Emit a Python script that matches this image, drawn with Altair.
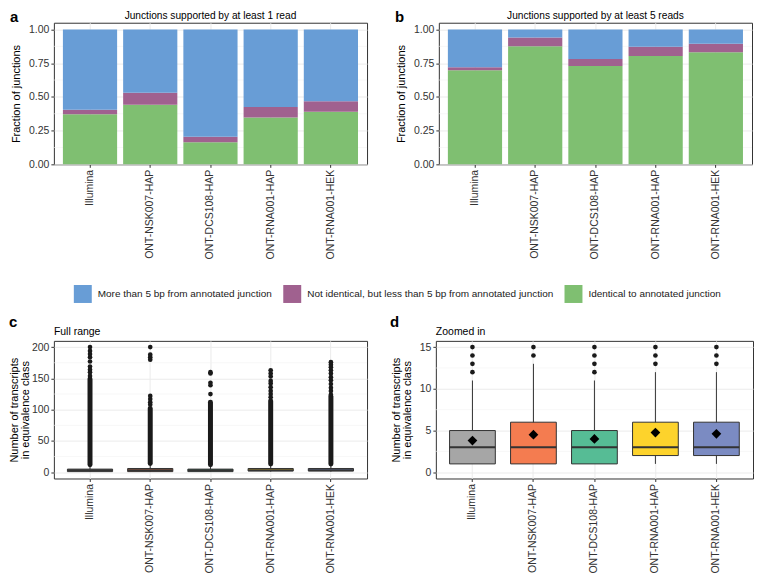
import altair as alt
import pandas as pd

FONT = "Liberation Sans"

# ---------------- data ----------------
samples = ["Illumina", "ONT-NSK007-HAP", "ONT-DCS108-HAP", "ONT-RNA001-HAP", "ONT-RNA001-HEK"]
categories = [
    "More than 5 bp from annotated junction",
    "Not identical, but less than 5 bp from annotated junction",
    "Identical to annotated junction",
]
cat_colors = ["#689DD6", "#A0618F", "#7FBF71"]

# panel a: junctions supported by at least 1 read (fractions)
a_identical = [0.371, 0.442, 0.164, 0.347, 0.390]
a_near = [0.033, 0.088, 0.040, 0.078, 0.078]
a_far = [0.596, 0.470, 0.796, 0.575, 0.532]
# panel b: junctions supported by at least 5 reads
b_identical = [0.698, 0.876, 0.729, 0.803, 0.831]
b_near = [0.022, 0.065, 0.052, 0.069, 0.064]
b_far = [0.280, 0.059, 0.219, 0.128, 0.105]

frac_ticks = [0, 0.25, 0.5, 0.75, 1.0]
frac_minor = [0.125, 0.375, 0.625, 0.875]

# panels c/d: boxplot statistics (transcripts per equivalence class)
box_colors = ["#A6A6A6", "#F47C50", "#56BC95", "#FDD32C", "#7B8BC2"]
q1 = [1, 1, 1, 2, 2]
med = [3, 3, 3, 3, 3]
q3 = [5, 6, 5, 6, 6]
whisk_lo = [1, 1, 1, 1, 1]
whisk_hi = [11, 13, 11, 12, 12]
means = [3.8, 4.5, 4.0, 4.75, 4.6]

# panel c (full range): dense outlier runs + isolated outliers
c_run_lo = [12, 14, 12, 13, 13]
c_run_hi = [149, 102, 112, 114, 121]
c_points = [
    [154, 160, 164, 169, 177, 184, 189, 194, 200],
    [108, 112, 117, 122, 180, 184, 188, 200],
    [125, 139, 143, 158, 160],
    [120, 125, 130, 136, 142, 146, 153, 158, 163],
    [124, 130, 135, 141, 147, 152, 158, 163, 168, 172, 176],
]
c_ticks = [0, 50, 100, 150, 200]
c_minor = [25, 75, 125, 175]

# panel d (zoomed in): outliers up to 15
d_points = [[12, 13, 14, 15], [14, 15], [12, 13, 14, 15], [13, 14, 15], [13, 14, 15]]
d_ticks = [0, 5, 10, 15]
d_minor = [2.5, 7.5, 12.5]

panel_letters = ["a", "b", "c", "d"]
panel_titles = ["Junctions supported by at least 1 read", "Junctions supported by at least 5 reads",
                "Full range", "Zoomed in"]
y_titles = ["Fraction of junctions", ["Number of transcripts", "in equivalence class"]]

# ---------------- layout constants ----------------
W = 314
W_D = 318
H_TOP = 142
H_BOT = 138
BOX_BAND = 0.8333
LABEL_FS = 10.5
TITLE_FS = 11


def x_enc():
    return alt.X(
        "sample:N", sort=samples, title=None,
        scale=alt.Scale(domain=samples, paddingInner=0.1, paddingOuter=0.15),
        axis=alt.Axis(labelAngle=270, labelFontSize=LABEL_FS, labelColor="#333333", labelPadding=2,
                      labelFont=FONT, labelLimit=200, tickSize=3, tickColor="#333333",
                      domain=False, grid=True, gridColor="#EBEBEB", bandPosition=0.5),
    )


def y_enc(field, domain, values, fmt, title, extent, tpad, stack=None):
    kw = {}
    if stack is not None:
        kw["stack"] = stack
    return alt.Y(
        field, title=title,
        scale=alt.Scale(domain=domain, nice=False, zero=False),
        axis=alt.Axis(values=values, format=fmt, labelFontSize=LABEL_FS, labelColor="#333333",
                      labelPadding=2, labelFont=FONT, tickSize=3, tickColor="#333333",
                      domain=False, grid=True, gridColor="#EBEBEB",
                      titleFontSize=TITLE_FS, titleFontWeight="normal", titleColor="#000000",
                      titleFont=FONT, titleLineHeight=11,
                      minExtent=extent, maxExtent=extent, titlePadding=tpad),
        **kw,
    )


def text_layer(txt, x, y, size, weight, align):
    return alt.Chart(pd.DataFrame({"t": [txt]})).mark_text(
        align=align, baseline="top", fontSize=size, fontWeight=weight,
        font=FONT, color="#000000",
    ).encode(text="t:N", x=alt.value(x), y=alt.value(y))


def bar_panel(ident, near, far, title, letter):
    rows = []
    for i, s in enumerate(samples):
        for cat, vals, rank in [(categories[2], ident, 0), (categories[1], near, 1), (categories[0], far, 2)]:
            rows.append({"sample": s, "category": cat, "value": vals[i], "rank": rank})
    df = pd.DataFrame(rows)

    def yy(field, stack=None):
        return y_enc(field, [0, 1.05], frac_ticks, ".2f", y_titles[0], 26, 6, stack)

    grid = alt.Chart(pd.DataFrame({"v": frac_minor})).mark_rule(
        color="#F2F2F2", strokeWidth=0.6).encode(y=yy("v:Q"))
    bars = alt.Chart(df).mark_bar().encode(
        x=x_enc(),
        y=yy("value:Q", "zero"),
        color=alt.Color("category:N", scale=alt.Scale(domain=categories, range=cat_colors), legend=None),
        order=alt.Order("rank:Q", sort="ascending"),
    )
    return alt.layer(
        grid, bars,
        text_layer(title, W / 2, -12, 10.2, "normal", "center"),
        text_layer(letter, -44, -13, 15, "bold", "left"),
    ).properties(width=W, height=H_TOP)


def box_panel(domain, ticks, minor, title, letter, width, extent, tpad, letter_x, full):
    stats = pd.DataFrame({"sample": samples, "q1": q1, "med": med, "q3": q3,
                          "lo": whisk_lo, "hi": whisk_hi, "mean": means})
    pts_src = c_points if full else d_points
    pts = pd.DataFrame([{"sample": s, "val": v} for s, vs in zip(samples, pts_src) for v in vs])

    def yy(field):
        return y_enc(field, domain, ticks, "d", y_titles[1], extent, tpad)

    fill = alt.Fill("sample:N", scale=alt.Scale(domain=samples, range=box_colors), legend=None)
    layers = [
        alt.Chart(pd.DataFrame({"v": minor})).mark_rule(color="#F2F2F2", strokeWidth=0.6).encode(y=yy("v:Q")),
        alt.Chart(stats).mark_rule(color="#333333", strokeWidth=1).encode(x=x_enc(), y=yy("lo:Q"), y2="hi:Q"),
    ]
    if full:
        runs = pd.DataFrame({"sample": samples, "rlo": c_run_lo, "rhi": c_run_hi})
        layers.append(alt.Chart(runs).mark_rule(color="#1A1A1A", strokeWidth=5, strokeCap="round").encode(
            x=x_enc(), y=yy("rlo:Q"), y2="rhi:Q"))
    layers.append(alt.Chart(pts).mark_circle(size=22, color="#1A1A1A", opacity=1).encode(
        x=x_enc(), y=yy("val:Q")))
    layers.append(alt.Chart(stats).mark_bar(width=alt.RelativeBandSize(BOX_BAND), stroke="#333333",
                                            strokeWidth=1).encode(x=x_enc(), y=yy("q1:Q"), y2="q3:Q", fill=fill))
    layers.append(alt.Chart(stats).mark_bar(width=alt.RelativeBandSize(BOX_BAND), stroke="#333333",
                                            strokeWidth=2, fillOpacity=0).encode(x=x_enc(), y=yy("med:Q"), y2="med:Q"))
    if not full:
        layers.append(alt.Chart(stats).mark_point(shape="diamond", filled=True, size=95, color="#000000",
                                                  opacity=1).encode(x=x_enc(), y=yy("mean:Q")))
    layers.append(text_layer(title, 0, -14, 10.5, "normal", "left"))
    layers.append(text_layer(letter, letter_x, -26, 15, "bold", "left"))
    return alt.layer(*layers).properties(width=width, height=H_BOT)


pa = bar_panel(a_identical, a_near, a_far, panel_titles[0], panel_letters[0])
pb = bar_panel(b_identical, b_near, b_far, panel_titles[1], panel_letters[1])
pc = box_panel([-10, 210], c_ticks, c_minor, panel_titles[2], panel_letters[2], W, 21, 2, -45, True)
pd_ = box_panel([-0.75, 15.75], d_ticks, d_minor, panel_titles[3], panel_letters[3], W_D, 20, 3, -46, False)

legend_chart = alt.Chart(pd.DataFrame({"category": categories})).mark_square(opacity=0).encode(
    color=alt.Color(
        "category:N", sort=categories,
        scale=alt.Scale(domain=categories, range=cat_colors),
        legend=alt.Legend(title=None, orient="none", legendX=20, legendY=14, direction="horizontal",
                          symbolType="square", symbolSize=324, symbolStrokeWidth=0, symbolOpacity=1,
                          labelFontSize=10, labelFont=FONT, labelColor="#1A1A1A", labelOffset=6,
                          columnPadding=11, padding=0, labelLimit=400),
    )
).properties(width=680, height=32, view=alt.ViewBackground(stroke="transparent"))

top = alt.hconcat(pa, pb, spacing=26).resolve_scale(x="independent", y="independent", color="independent")
bottom = alt.hconcat(pc, pd_, spacing=21).resolve_scale(x="independent", y="independent", fill="independent")

chart = alt.vconcat(top, legend_chart, bottom, spacing=10).resolve_scale(
    color="independent", fill="independent"
).properties(padding=0).configure(font=FONT).configure_view(stroke="#333333", strokeWidth=1)

chart.save("out.html", embed_options={"renderer": "svg", "actions": False})
